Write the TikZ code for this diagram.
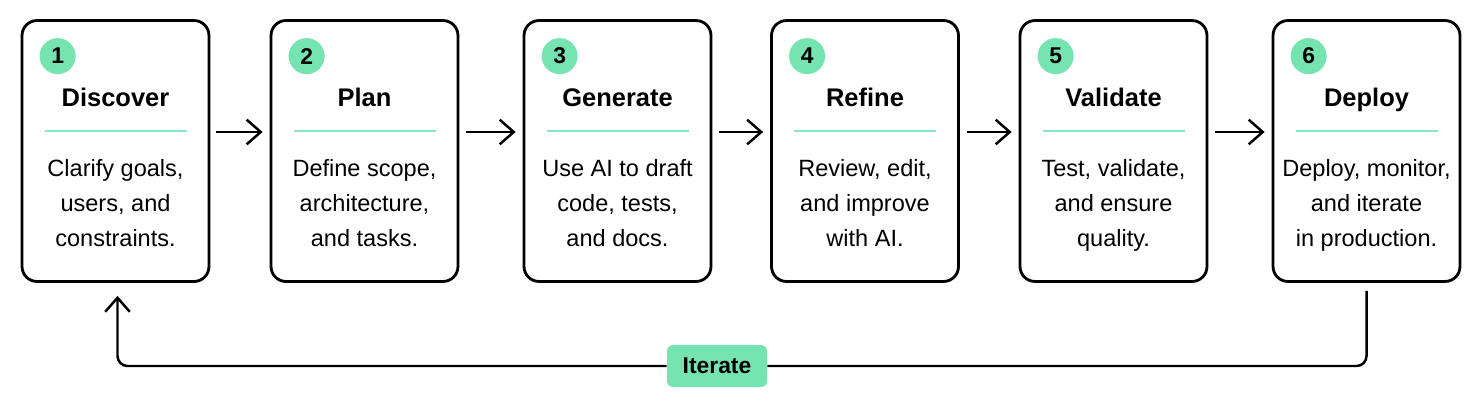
\documentclass[tikz,border=0pt]{standalone}
\usepackage{fontspec}
\setmainfont{Liberation Sans}
\usetikzlibrary{arrows.meta, positioning, calc}

\definecolor{mint}{RGB}{118,228,176}
\definecolor{mintline}{RGB}{140,232,192}

\begin{document}
\begin{tikzpicture}[x=0.02cm, y=-0.02cm,
      stage/.style={draw, line width=1.6pt, rounded corners=0.3cm, fill=white, minimum width=3.74cm, minimum height=5.22cm},
      num/.style={circle, fill=mint, minimum size=0.72cm, inner sep=0pt, font=\fontsize{13}{13}\selectfont\bfseries},
      ttl/.style={anchor=base, font=\fontsize{14.5}{16}\selectfont\bfseries},
      txt/.style={anchor=north, align=center, font=\fontsize{13.4}{20}\selectfont},
      flow/.style={-{Straight Barb[length=8pt, width=14pt, line width=1.4pt]}, line width=1.4pt},
      tag/.style={fill=mint, rounded corners=0.12cm, minimum width=2cm, minimum height=0.84cm, font=\fontsize{13}{13}\selectfont\bfseries},
    ]
      \useasboundingbox[fill=white] (0,0) rectangle (1483,406);
      % the six stages
      \node[stage] (b1) at (115.5,151) {};
      \node[stage] (b2) at (364.5,151) {};
      \node[stage] (b3) at (617.5,151) {};
      \node[stage] (b4) at (865,151) {};
      \node[stage] (b5) at (1113.5,151) {};
      \node[stage] (b6) at (1366.5,151) {};
      \node[num] (n1) at ($(b1.north west)+(37,37)$) {1};
      \node[num] (n2) at ($(b2.north west)+(37,37)$) {2};
      \node[num] (n3) at ($(b3.north west)+(37,37)$) {3};
      \node[num] (n4) at ($(b4.north west)+(37,37)$) {4};
      \node[num] (n5) at ($(b5.north west)+(37,37)$) {5};
      \node[num] (n6) at ($(b6.north west)+(37,37)$) {6};
      \node[ttl] (t1) at ($(b1.north)+(0,87)$) {Discover};
      \node[ttl] (t2) at ($(b2.north)+(0,87)$) {Plan};
      \node[ttl] (t3) at ($(b3.north)+(0,87)$) {Generate};
      \node[ttl] (t4) at ($(b4.north)+(0,87)$) {Refine};
      \node[ttl] (t5) at ($(b5.north)+(0,87)$) {Validate};
      \node[ttl] (t6) at ($(b6.north)+(0,87)$) {Deploy};
      \foreach \i in {1,...,6}
        \draw[mintline, line width=1.5pt] ($(b\i.north)+(-71,112)$) -- ($(b\i.north)+(71,112)$);
      \node[txt] (d1) at ($(b1.north)+(0,134)$) {Clarify goals,\\users, and\\constraints.};
      \node[txt] (d2) at ($(b2.north)+(0,134)$) {Define scope,\\architecture,\\and tasks.};
      \node[txt] (d3) at ($(b3.north)+(0,134)$) {Use AI to draft\\code, tests,\\and docs.};
      \node[txt] (d4) at ($(b4.north)+(0,134)$) {Review, edit,\\and improve\\with AI.};
      \node[txt] (d5) at ($(b5.north)+(0,134)$) {Test, validate,\\and ensure\\quality.};
      \node[txt] (d6) at ($(b6.north)+(0,134)$) {Deploy, monitor,\\and iterate\\in production.};
      % forward arrows
      \draw[flow] ($(b1.east)+(6,-19)$) -- ($(b2.west)+(-7,-19)$);
      \draw[flow] ($(b2.east)+(7,-19)$) -- ($(b3.west)+(-7,-19)$);
      \draw[flow] ($(b3.east)+(7,-19)$) -- ($(b4.west)+(-7,-19)$);
      \draw[flow] ($(b4.east)+(7,-19)$) -- ($(b5.west)+(-7,-19)$);
      \draw[flow] ($(b5.east)+(7,-19)$) -- ($(b6.west)+(-7,-19)$);
      % loop back
      \node[tag] (it) at (717,366) {Iterate};
      \coordinate (lp) at ($(b1.south)+(2,13)$);
      \draw[line width=1.4pt, rounded corners=0.2cm] ($(b6.south)+(0,8)$) |- (it.east);
      \draw[flow, rounded corners=0.2cm] (it.west) -| (lp);
    \end{tikzpicture}
\end{document}
